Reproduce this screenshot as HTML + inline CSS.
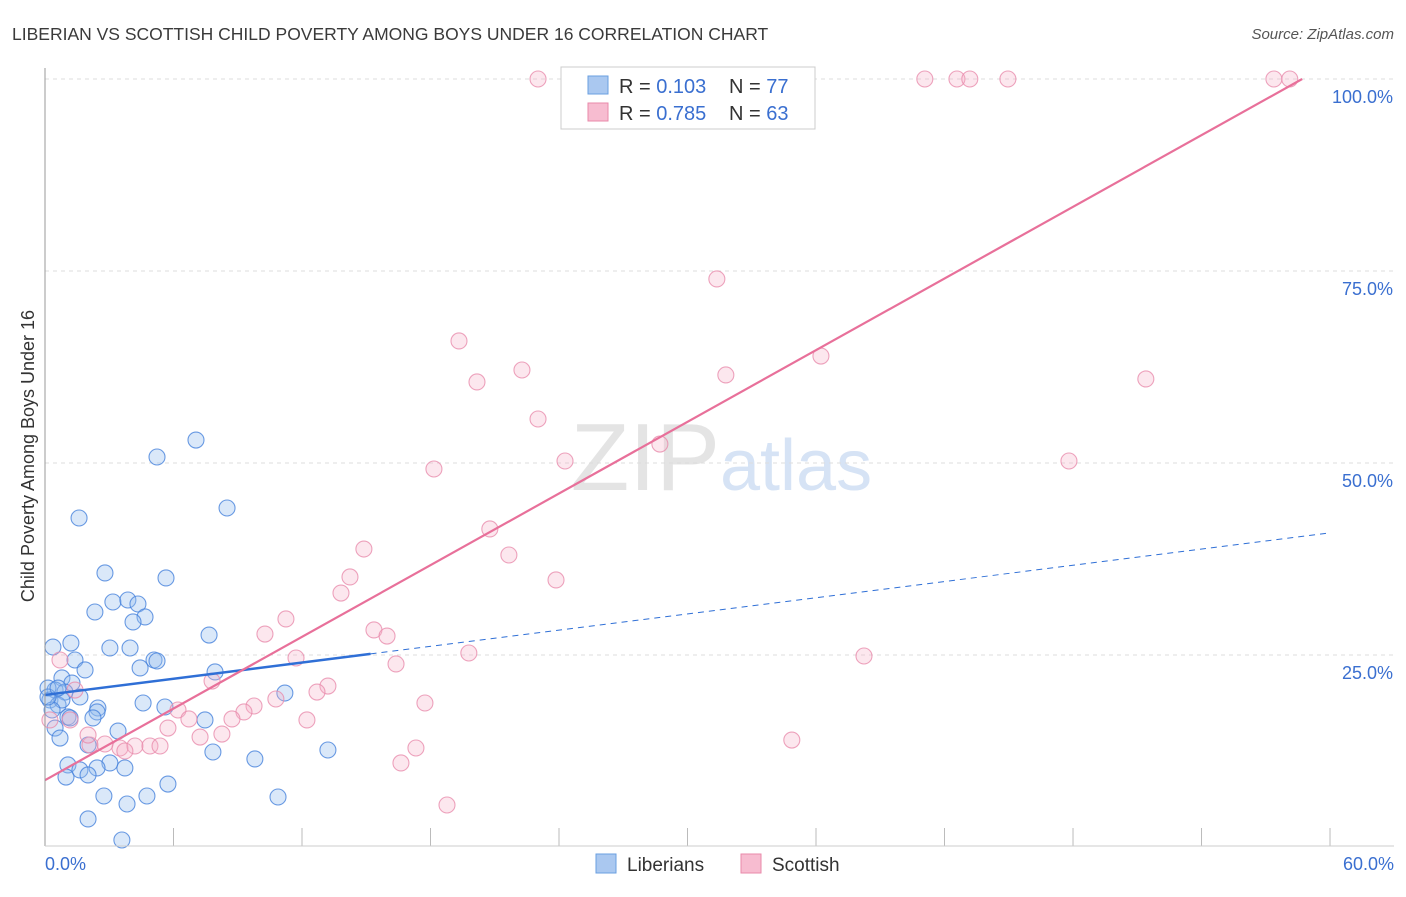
<!DOCTYPE html>
<html><head><meta charset="utf-8"><style>
body{margin:0;background:#fff;font-family:"Liberation Sans",sans-serif;}
svg text{font-family:"Liberation Sans",sans-serif;}
</style></head><body>
<svg id="c" width="1406" height="892">
<text x="12" y="40" font-size="17.5" fill="#3a3a3a">LIBERIAN VS SCOTTISH CHILD POVERTY AMONG BOYS UNDER 16 CORRELATION CHART</text>
<text x="1394" y="39" font-size="15" fill="#555" text-anchor="end" font-style="italic">Source: ZipAtlas.com</text>
<text x="720" y="490" font-size="96" fill="#e4e4e4" text-anchor="end" font-family="Liberation Serif">ZIP</text>
<text x="720" y="490" font-size="72" fill="#d6e3f5">atlas</text>
<g id="grid"></g>
<g id="pts"></g>
<g id="lines"></g>
<line x1="45" y1="68" x2="45" y2="846" stroke="#999"/>
<line x1="45" y1="846" x2="1394" y2="846" stroke="#ccc"/>
<text transform="translate(34,456) rotate(-90)" font-size="18" fill="#333" text-anchor="middle">Child Poverty Among Boys Under 16</text>
<text x="45" y="870" font-size="18" fill="#3a6fd0">0.0%</text>
<text x="1394" y="870" font-size="18" fill="#3a6fd0" text-anchor="end">60.0%</text>
<g>
<rect x="561" y="67" width="254" height="62" fill="#fff" stroke="#ccc"/>
<rect x="588" y="76" width="20" height="18" fill="#aac8f0" stroke="#6a9fe0"/>
<rect x="588" y="103" width="20" height="18" fill="#f7bcd0" stroke="#e88aaa"/>
<text x="619" y="93" font-size="20" fill="#333">R = <tspan fill="#3a6fd0">0.103</tspan></text>
<text x="729" y="93" font-size="20" fill="#333">N = <tspan fill="#3a6fd0">77</tspan></text>
<text x="619" y="120" font-size="20" fill="#333">R = <tspan fill="#3a6fd0">0.785</tspan></text>
<text x="729" y="120" font-size="20" fill="#333">N = <tspan fill="#3a6fd0">63</tspan></text>
</g>
<g>
<rect x="596" y="854" width="20" height="19" fill="#aac8f0" stroke="#6a9fe0"/>
<text x="627" y="871" font-size="19" fill="#333">Liberians</text>
<rect x="741" y="854" width="20" height="19" fill="#f7bcd0" stroke="#e88aaa"/>
<text x="772" y="871" font-size="19" fill="#333">Scottish</text>
</g>
</svg>
<script>
const yTicks=[25,50,75,100];
const xTicks=[0,6,12,18,24,30,36,42,48,54,60];
const bluePx=[[196,440],[157,457],[79,518],[227,508],[105,573],[166,578],[95,612],[113,602],[128,600],[138,604],[145,617],[133,622],[209,635],[71,643],[53,647],[110,648],[130,648],[154,660],[157,661],[75,660],[85,670],[140,668],[215,672],[62,678],[72,683],[55,690],[48,688],[65,692],[80,697],[50,700],[58,705],[62,700],[285,693],[143,703],[165,707],[98,708],[97,712],[68,717],[93,718],[70,718],[205,720],[55,728],[118,731],[60,738],[88,745],[328,750],[213,752],[255,759],[68,765],[110,763],[125,768],[97,768],[80,770],[88,775],[66,777],[168,784],[104,796],[147,796],[278,797],[127,804],[88,819],[122,840],[52,710],[48,697],[58,688]];
const pinkPx=[[538,79],[628,79],[925,79],[957,79],[970,79],[1008,79],[1274,79],[1290,79],[717,279],[459,341],[477,382],[522,370],[726,375],[821,356],[1146,379],[538,419],[565,461],[1069,461],[434,469],[660,444],[490,529],[364,549],[509,555],[350,577],[556,580],[341,593],[286,619],[374,630],[387,636],[265,634],[296,658],[469,653],[864,656],[396,664],[212,681],[328,686],[317,692],[276,699],[425,703],[178,710],[254,706],[244,712],[189,719],[232,719],[307,720],[168,728],[222,734],[200,737],[90,745],[120,748],[135,746],[150,746],[160,746],[105,744],[125,751],[416,748],[401,763],[792,740],[447,805],[60,660],[75,690],[70,720],[88,735],[50,720]];
const blueX=bluePx.map(p=>+((p[0]-45)/21.42).toFixed(2));
const blueY=bluePx.map(p=>+((847-p[1])/7.68).toFixed(2));
const pinkX=pinkPx.map(p=>+((p[0]-45)/21.42).toFixed(2));
const pinkY=pinkPx.map(p=>+((847-p[1])/7.68).toFixed(2));
const blueTrend=[19.8,40.9];
const pinkTrend=[8.7,100];
const pinkTrendEndX=58.7;
const blueSolidEndX=15.2;
function X(v){return 45+v*21.417;}
function Y(v){return 847-v*7.68;}
const NS="http://www.w3.org/2000/svg";
function mk(tag,attrs,parent){const e=document.createElementNS(NS,tag);for(const k in attrs)e.setAttribute(k,attrs[k]);document.getElementById(parent).appendChild(e);return e;}
yTicks.forEach(t=>{
 const l=mk('line',{x1:45,x2:1394,y1:Y(t),y2:Y(t),stroke:'#ddd','stroke-dasharray':'4,4'},'grid');
 
 
 const tx=mk('text',{x:1393,y:Y(t)+24,'font-size':18,fill:'#3a6fd0','text-anchor':'end'},'grid');
 tx.textContent=t.toFixed(1)+'%';
 
 
});
xTicks.forEach(t=>{
 const l=mk('line',{x1:X(t),x2:X(t),y1:828,y2:846,stroke:'#bbb'},'grid');
 
 
});
blueX.forEach((x,i)=>{
 const c=mk('circle',{cx:X(x),cy:Y(blueY[i]),r:8,fill:'rgba(150,188,238,0.35)',stroke:'rgba(70,130,220,0.8)','stroke-width':1.1},'pts');
 
 
});
pinkX.forEach((x,i)=>{
 const c=mk('circle',{cx:X(x),cy:Y(pinkY[i]),r:8,fill:'rgba(245,175,198,0.3)',stroke:'rgba(232,140,172,0.8)','stroke-width':1.1},'pts');
 
 
});
const bAt=x=>blueTrend[0]+(blueTrend[1]-blueTrend[0])*x/60;
let l=mk('line',{x1:X(0),y1:Y(bAt(0)),x2:X(blueSolidEndX),y2:Y(bAt(blueSolidEndX)),stroke:'#2f6fd6','stroke-width':2.5},'lines');


l=mk('line',{x1:X(blueSolidEndX),y1:Y(bAt(blueSolidEndX)),x2:X(60),y2:Y(bAt(60)),stroke:'#2f6fd6','stroke-width':1,'stroke-dasharray':'6,5'},'lines');


l=mk('line',{x1:X(0),y1:Y(pinkTrend[0]),x2:X(pinkTrendEndX),y2:Y(pinkTrend[1]),stroke:'#e8709a','stroke-width':2.2},'lines');


</script>
</body></html>
